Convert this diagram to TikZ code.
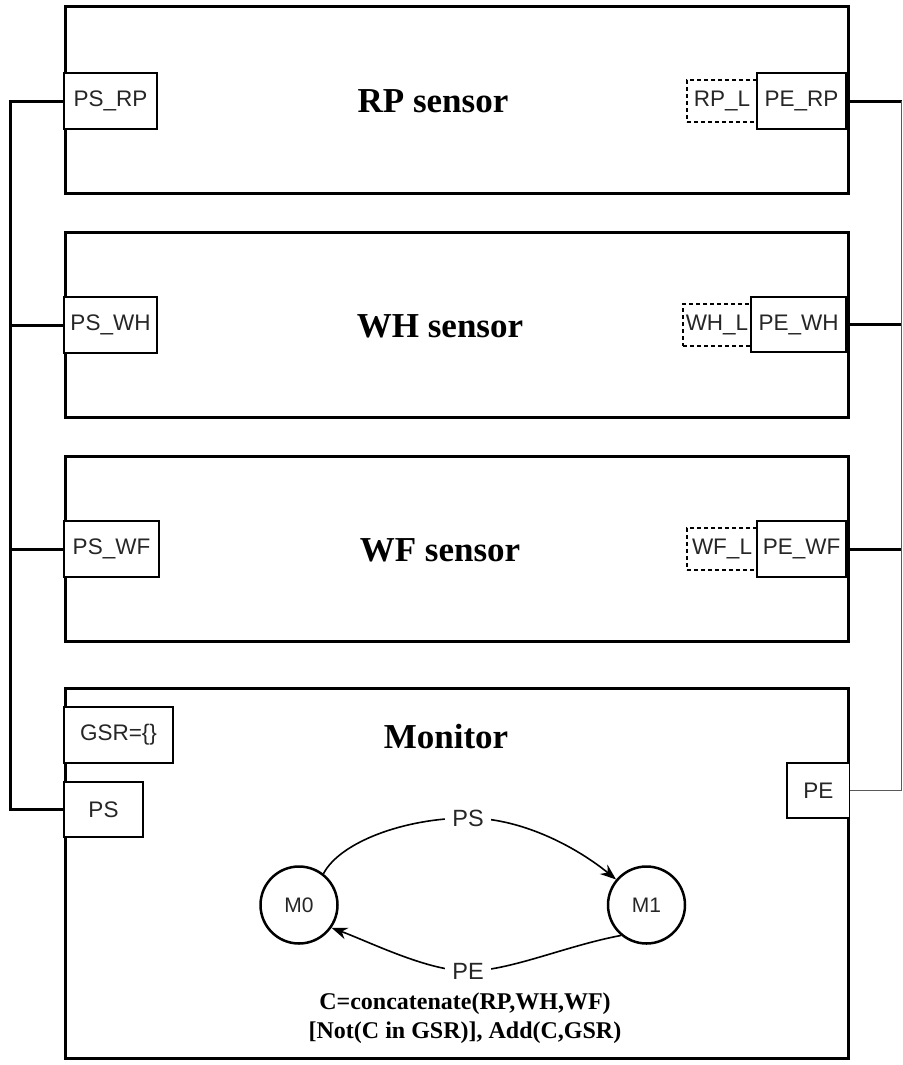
\documentclass[tikz,border=0pt]{standalone}
\usepackage{fontspec}
\setmainfont{Liberation Serif}
\setsansfont{Liberation Sans}
\usetikzlibrary{arrows.meta}
\begin{document}
\begin{tikzpicture}[x=1pt,y=-1pt,
  block/.style={draw, line width=3pt, inner sep=0pt},
  port/.style={draw, fill=white, line width=1.3pt, inner sep=0pt, text=black!85, font=\sffamily\fontsize{22.5}{26}\selectfont},
  lport/.style={draw, dashed, dash pattern=on 4pt off 3pt, fill=white, line width=1.3pt, inner sep=0pt, text=black!85, font=\sffamily\fontsize{22.5}{26}\selectfont},
  title/.style={font=\bfseries\fontsize{35}{40}\selectfont},
  bus/.style={line width=3pt},
  thinbus/.style={line width=1pt, black!65},
  state/.style={draw, circle, line width=2.5pt, minimum size=77pt, inner sep=0pt, text=black!85, font=\sffamily\fontsize{21}{24}\selectfont},
  trans/.style={line width=1.6pt, -{Stealth[length=16pt,width=12pt]}},
  tlabel/.style={fill=white, inner xsep=7pt, inner ysep=2pt, text=black!85, font=\sffamily\fontsize{23.5}{27}\selectfont}
]
\useasboundingbox (0,0) rectangle (902,1065);

% blocks
\node[block, minimum width=783pt, minimum height=186pt] (rp) at (456.5,100) {};
\node[block, minimum width=783pt, minimum height=185pt] (wh) at (456.5,324.5) {};
\node[block, minimum width=783pt, minimum height=185pt] (wf) at (456.5,548.5) {};
\node[block, minimum width=783pt, minimum height=370pt] (mon) at (456.5,873) {};

% titles
\node[title] (trp) at (433,101) {RP sensor};
\node[title] (twh) at (440,326) {WH sensor};
\node[title] (twf) at (440,550) {WF sensor};
\node[title] (tmon) at (446,737) {Monitor};

% ports
\node[port, minimum width=93pt, minimum height=56pt] (psrp) at (110.5,101) {PS\_RP};
\node[port, minimum width=93pt, minimum height=56pt] (pswh) at (110.5,325) {PS\_WH};
\node[port, minimum width=95pt, minimum height=56pt] (pswf) at (111.5,549) {PS\_WF};
\node[lport, minimum width=70pt, minimum height=42pt] (rpl) at (722,101) {RP\_L};
\node[port, minimum width=89pt, minimum height=56pt] (perp) at (801.5,101) {PE\_RP};
\node[lport, minimum width=68pt, minimum height=42pt] (whl) at (717,325) {WH\_L};
\node[port, minimum width=95pt, minimum height=55pt] (pewh) at (798.5,324.5) {PE\_WH};
\node[lport, minimum width=70pt, minimum height=42pt] (wfl) at (722,549) {WF\_L};
\node[port, minimum width=89pt, minimum height=56pt] (pewf) at (801.5,549) {PE\_WF};
\node[port, minimum width=109pt, minimum height=56pt] (gsr) at (118.5,735) {GSR=\{\}};
\node[port, minimum width=79pt, minimum height=55pt] (psm) at (103.5,809.5) {PS};
\node[port, minimum width=62.5pt, minimum height=55pt] (pem) at (818.25,790.5) {PE};

% left bus
\coordinate (lt) at (10,101);
\coordinate (lb) at (10,809.5);
\draw[bus] (psrp.west) -- (lt) -- (lb) -- (psm.west);
\draw[bus] (pswh.west) -- (pswh.west -| lt);
\draw[bus] (pswf.west) -- (pswf.west -| lt);

% right bus
\coordinate (rt) at (901.5,101);
\coordinate (rb) at (901.5,790.5);
\draw[bus] (perp.east) -- (902,101);
\draw[bus] (pewh.east) -- (902,324.5);
\draw[bus] (pewf.east) -- (902,549);
\draw[thinbus] (rt) -- (rb) -- (pem.east);

% state machine
\node[state] (m0) at (299,905) {M0};
\node[state] (m1) at (646.5,905) {M1};
\coordinate (cps) at (468,818);
\coordinate (cpe) at (468,971);
\draw[trans] (m0.52) .. controls (340,842) and (405,818) .. (cps)
   .. controls (525,818) and (580,850) .. (m1.140);
\draw[trans] (m1.-130) .. controls (565,946) and (510,971) .. (cpe)
   .. controls (428,971) and (372,943) .. (m0.-35);
\node[tlabel] (lps) at (cps) {PS};
\node[tlabel] (lpe) at (cpe) {PE};

% guard text
\node[align=center, font=\bfseries\fontsize{24}{29}\selectfont] (guard) at (465,1018)
  {C=concatenate(RP,WH,WF)\\{}[Not(C in GSR)], Add(C,GSR)};
\end{tikzpicture}
\end{document}
